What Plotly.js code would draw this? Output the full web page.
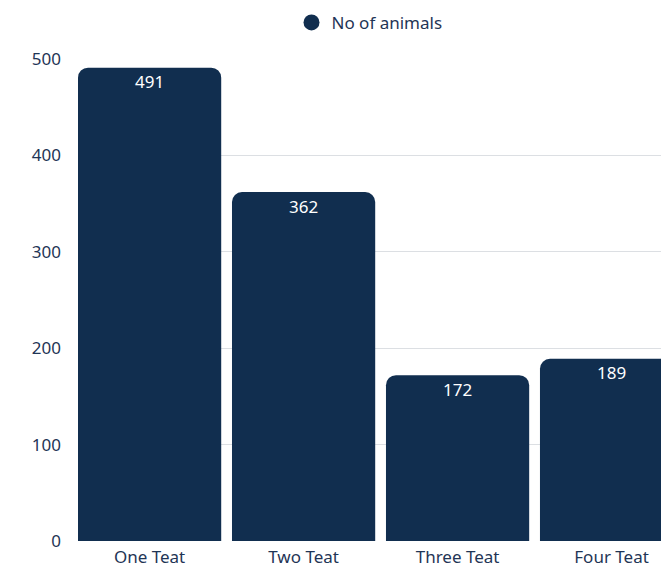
<!DOCTYPE html>
<html>
<head>
<meta charset="utf-8">
<script src="https://cdn.plot.ly/plotly-3.0.1.min.js"></script>
<style>html,body{margin:0;padding:0;background:#fff;}#chart{width:661px;height:567px;}</style>
</head>
<body>
<div id="chart"></div>
<script>
const categories = ["One Teat", "Two Teat", "Three Teat", "Four Teat"];
const animals = [491, 362, 172, 189];
const seriesName = "No of animals";
const yTicks = [0, 100, 200, 300, 400, 500];

const barColor = "#112e4f";
const textColor = "#1f3556";
const fontFam = "'Noto Sans', 'Open Sans', sans-serif";

const traces = [
  {
    type: "bar",
    x: categories,
    y: animals,
    marker: {color: barColor, cornerradius: 10},
    showlegend: false,
    hoverinfo: "x+y"
  },
  {
    type: "scatter",
    mode: "markers",
    x: [null],
    y: [null],
    name: seriesName,
    marker: {color: barColor, size: 20, symbol: "circle"},
    showlegend: true
  }
];

const valueLabels = categories.map((c, i) => ({
  x: c,
  y: animals[i],
  xref: "x",
  yref: "y",
  text: String(animals[i]),
  showarrow: false,
  yanchor: "middle",
  yshift: -14,
  font: {color: "#ffffff", size: 17, family: fontFam}
}));

const layout = {
  width: 661,
  height: 567,
  margin: {l: 78, r: 0, t: 59, b: 26},
  paper_bgcolor: "#ffffff",
  plot_bgcolor: "#ffffff",
  font: {family: fontFam, color: textColor, size: 17},
  bargap: 0.07,
  showlegend: true,
  legend: {
    orientation: "h",
    x: 0.5,
    xanchor: "center",
    y: 1.075,
    yanchor: "middle",
    font: {size: 17, color: textColor, family: fontFam},
    itemsizing: "trace"
  },
  annotations: valueLabels,
  xaxis: {
    type: "category",
    range: [-0.465, 3.321],
    showgrid: false,
    zeroline: false,
    showline: false,
    ticks: "",
    ticklabelstandoff: 4,
    tickfont: {size: 17, color: textColor},
    fixedrange: true
  },
  yaxis: {
    range: [0, 500],
    tickvals: yTicks,
    showgrid: true,
    gridcolor: "#dcdfe3",
    gridwidth: 1,
    zeroline: false,
    showline: false,
    ticks: "",
    ticklabelstandoff: 16,
    tickfont: {size: 17, color: textColor},
    fixedrange: true
  }
};

Plotly.newPlot("chart", traces, layout, {displayModeBar: false, staticPlot: true});
</script>
</body>
</html>
